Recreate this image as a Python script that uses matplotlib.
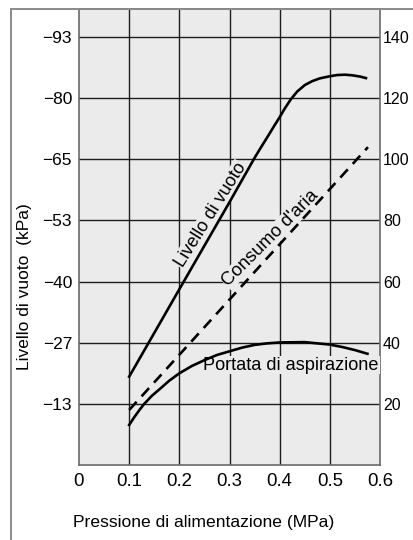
import matplotlib
matplotlib.use("Agg")
import matplotlib.pyplot as plt
import matplotlib.font_manager as fm
from matplotlib.patches import Rectangle

# ---- data ----
x_ticks = [0, 0.1, 0.2, 0.3, 0.4, 0.5, 0.6]
x_tick_labels = ["0", "0.1", "0.2", "0.3", "0.4", "0.5", "0.6"]
y_ticks = [20, 40, 60, 80, 100, 120, 140]
y_right_labels = ["20", "40", "60", "80", "100", "120", "140"]
y_left_labels = ["\u221213", "\u221227", "\u221240", "\u221253", "\u221265", "\u221280", "\u221293"]

x_vuoto = [0.1, 0.2, 0.3, 0.35, 0.36, 0.38, 0.39, 0.40, 0.41, 0.422, 0.435, 0.45,
           0.465, 0.48, 0.5, 0.515, 0.53, 0.545, 0.56, 0.572]
y_vuoto = [28.9, 57.5, 86.0, 100.5, 103.2, 108.5, 111.2, 113.8, 116.6, 119.6, 122.2, 124.3,
           125.6, 126.5, 127.2, 127.6, 127.7, 127.5, 127.1, 126.6]

x_consumo = [0.1, 0.576]
y_consumo = [18.0, 104.0]

x_portata = [0.1, 0.11, 0.12, 0.13, 0.145, 0.162, 0.18, 0.2, 0.225, 0.25, 0.275, 0.3,
             0.325, 0.35, 0.375, 0.4, 0.45, 0.5, 0.525, 0.55, 0.575]
y_portata = [13.1, 15.6, 17.9, 20.0, 22.6, 25.0, 27.6, 30.0, 32.4, 34.3, 36.0, 37.2,
             38.4, 39.3, 39.8, 40.1, 40.2, 39.4, 38.6, 37.6, 36.4]

names = {f.name for f in fm.fontManager.ttflist}
BASE = "Liberation Sans" if "Liberation Sans" in names else "DejaVu Sans"
plt.rcParams["font.family"] = [BASE, "DejaVu Sans"]

BG = "#ebebeb"
GRID = "#1e1e1e"
SPINE = "#6a6a6a"

W, H = 413, 540
fig = plt.figure(figsize=(W / 100, H / 100), dpi=100)
fig.patch.set_facecolor("white")

# outer frame (cropped at right and bottom)
fig.patches.append(Rectangle((11 / W, -0.05), 1.2, 1 - 9 / H + 0.05,
                             transform=fig.transFigure, fill=False,
                             edgecolor="#8a8a8a", linewidth=1.4))

ax = fig.add_axes([79 / W, 1 - 465 / H, (380 - 79) / W, (465 - 9) / H])
ax.set_facecolor(BG)
ax.set_xlim(0, 0.6)
ax.set_ylim(0, 149.2)

for v in x_ticks[1:-1]:
    ax.axvline(v, color=GRID, lw=1.0, zorder=1)
for v in y_ticks:
    ax.axhline(v, color=GRID, lw=1.0, zorder=1)

for s in ax.spines.values():
    s.set_color(SPINE)
    s.set_linewidth(1.2)

ax.set_xticks(x_ticks)
ax.set_xticklabels(x_tick_labels, fontsize=13.4)
ax.set_yticks(y_ticks)
ax.set_yticklabels(y_left_labels, fontsize=12.5)
ax.tick_params(axis="both", length=0)
ax.tick_params(axis="x", pad=6)
ax.tick_params(axis="y", pad=5)

ax2 = ax.twinx()
ax2.set_ylim(ax.get_ylim())
ax2.set_yticks(y_ticks)
ax2.set_yticklabels(y_right_labels, fontsize=11.5)
ax2.tick_params(axis="y", length=0, pad=2)
for s in ax2.spines.values():
    s.set_visible(False)

ax.plot(x_vuoto, y_vuoto, color="black", lw=1.9, zorder=4)
ax.plot(x_consumo, y_consumo, color="black", lw=1.9, zorder=4,
        linestyle=(0, (4.2, 2.8)))
ax.plot(x_portata, y_portata, color="black", lw=1.9, zorder=4)

box = dict(facecolor=BG, edgecolor="none", pad=0.5)
ax.text(0.262, 81.8, "Livello di vuoto", rotation=58, ha="center", va="center",
        fontsize=13, zorder=3, bbox=box, rotation_mode="anchor")
ax.text(0.382, 74.3, "Consumo d'aria", rotation=45, ha="center", va="center",
        fontsize=13.3, zorder=3, bbox=box, rotation_mode="anchor")
ax.text(0.248, 32.7, "Portata di aspirazione", ha="left", va="center",
        fontsize=13.1, zorder=3, bbox=box)

fig.text(25 / W, 1 - 287 / H, "Livello di vuoto  (kPa)", rotation=90,
         ha="center", va="center", fontsize=12.5)
fig.text(73 / W, 1 - 523 / H, "Pressione di alimentazione (MPa)",
         ha="left", va="center", fontsize=12.6)

fig.savefig("out.png", dpi=100, facecolor="white")
